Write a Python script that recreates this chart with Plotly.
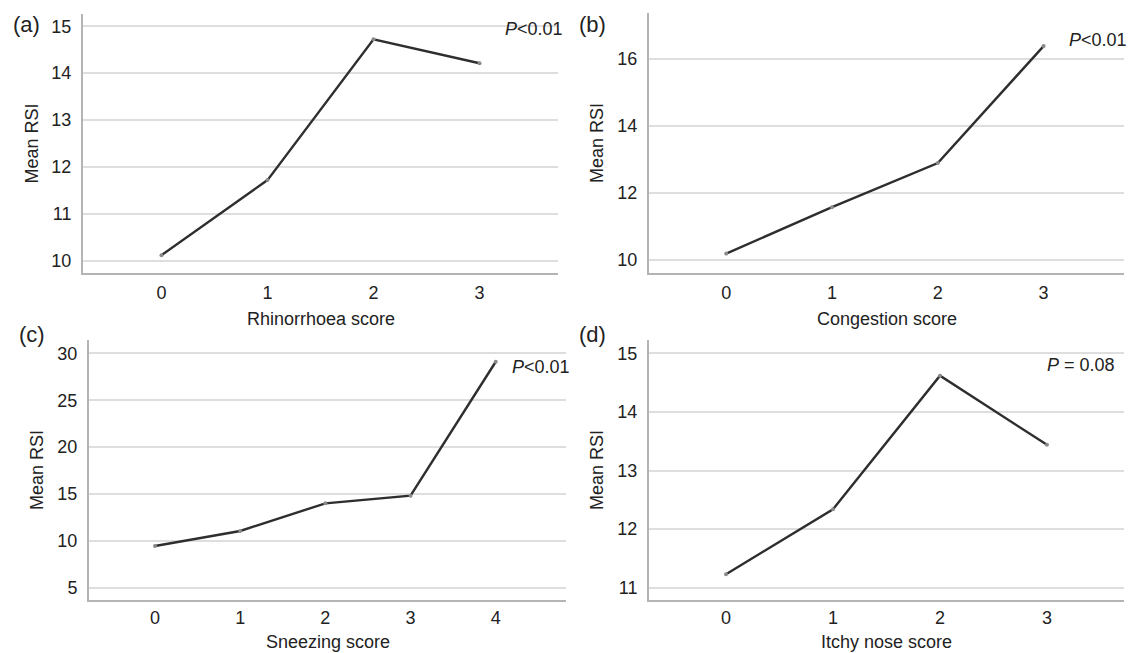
import plotly.graph_objects as go

# ---- data ----
rhino_x = [0, 1, 2, 3]
rhino_y = [10.12, 11.72, 14.72, 14.21]
cong_x = [0, 1, 2, 3]
cong_y = [10.18, 11.57, 12.89, 16.39]
sneeze_x = [0, 1, 2, 3, 4]
sneeze_y = [9.45, 11.05, 14.0, 14.82, 29.1]
itchy_x = [0, 1, 2, 3]
itchy_y = [11.23, 12.34, 14.62, 13.44]

panel_labels = ["(a)", "(b)", "(c)", "(d)"]
x_titles = ["Rhinorrhoea score", "Congestion score", "Sneezing score", "Itchy nose score"]
y_title = "Mean RSI"
p_texts = ["<i>P</i><0.01", "<i>P</i><0.01", "<i>P</i><0.01", "<i>P</i> = 0.08"]
y_ticks = [[10, 11, 12, 13, 14, 15], [10, 12, 14, 16], [5, 10, 15, 20, 25, 30], [11, 12, 13, 14, 15]]

W, H = 1128, 653
FONT = "Liberation Sans, Arial, sans-serif"
TXT = "#222222"

def px_x(p):
    return p / W

def px_y(p):
    return 1 - p / H

# panel geometry in screen pixels: (left, right, top, bottom)
geo = [(83, 558, 14, 273), (649, 1124, 13, 273), (89, 566, 340, 600), (649, 1124, 340, 600)]
x_ranges = [[-0.74, 3.74], [-0.73, 3.76], [-0.775, 4.825], [-0.72, 3.72]]
y_ranges = [[9.74, 15.26], [9.6, 17.38], [3.69, 31.42], [10.79, 15.23]]
label_y = [25, 25, 334, 334]
title_y = [319, 319, 642, 642]
xtick_standoff = [2, 2, 0, 0]

series = [(rhino_x, rhino_y), (cong_x, cong_y), (sneeze_x, sneeze_y), (itchy_x, itchy_y)]

fig = go.Figure()
layout = dict(
    width=W, height=H, margin=dict(l=0, r=0, t=0, b=0),
    paper_bgcolor="white", plot_bgcolor="white", showlegend=False,
    font=dict(family=FONT, size=18, color=TXT),
)
annotations = []

for i, ((xs, ys), (l, r, t, b)) in enumerate(zip(series, geo)):
    n = "" if i == 0 else str(i + 1)
    fig.add_trace(go.Scatter(
        x=xs, y=ys, mode="lines+markers",
        line=dict(color="#2e2e2e", width=2.4),
        marker=dict(color="#8a8a8a", size=4),
        xaxis="x" + n, yaxis="y" + n, hoverinfo="skip", cliponaxis=False,
    ))
    layout["xaxis" + n] = dict(
        domain=[px_x(l), px_x(r)], anchor="y" + n, range=x_ranges[i],
        tickvals=xs, ticktext=[str(v) for v in xs], showgrid=False, zeroline=False,
        showline=True, linecolor="#b4b4b4", linewidth=2, ticks="",
        ticklabelstandoff=xtick_standoff[i],
        tickfont=dict(family=FONT, size=18, color=TXT),
    )
    layout["yaxis" + n] = dict(
        domain=[px_y(b), px_y(t)], anchor="x" + n, range=y_ranges[i],
        tickvals=y_ticks[i], showgrid=True, gridcolor="#dedede", gridwidth=1.5,
        zeroline=False, showline=True, linecolor="#b4b4b4", linewidth=2, ticks="",
        ticklabelstandoff=6,
        tickfont=dict(family=FONT, size=18, color=TXT),
    )
    # panel label
    annotations.append(dict(
        text=panel_labels[i], xref="paper", yref="paper",
        x=px_x(l - 72), y=px_y(label_y[i]), xanchor="left", yanchor="middle",
        showarrow=False, font=dict(family=FONT, size=22, color=TXT),
    ))
    # x title
    annotations.append(dict(
        text=x_titles[i], xref="paper", yref="paper",
        x=px_x((l + r) / 2), y=px_y(title_y[i]), xanchor="center", yanchor="middle",
        showarrow=False, font=dict(family=FONT, size=18, color=TXT),
    ))
    # y title
    annotations.append(dict(
        text=y_title, xref="paper", yref="paper",
        x=px_x(l - 52), y=px_y((t + b) / 2), xanchor="center", yanchor="middle",
        textangle=-90, showarrow=False, font=dict(family=FONT, size=18, color=TXT),
    ))

# P-value annotations (screen pixel positions: left x, center y)
p_pos = [(503, 29), (1067, 40), (510, 367), (1045, 365)]
for txt, (x0, yc) in zip(p_texts, p_pos):
    annotations.append(dict(
        text=txt, xref="paper", yref="paper", x=px_x(x0), y=px_y(yc),
        xanchor="left", yanchor="middle", showarrow=False,
        font=dict(family=FONT, size=18, color=TXT),
    ))

layout["annotations"] = annotations
fig.update_layout(**layout)
fig.write_html(
    "out.html",
    config={"displayModeBar": False},
    post_script="document.body.style.margin='0';document.body.style.overflow='hidden';",
)
